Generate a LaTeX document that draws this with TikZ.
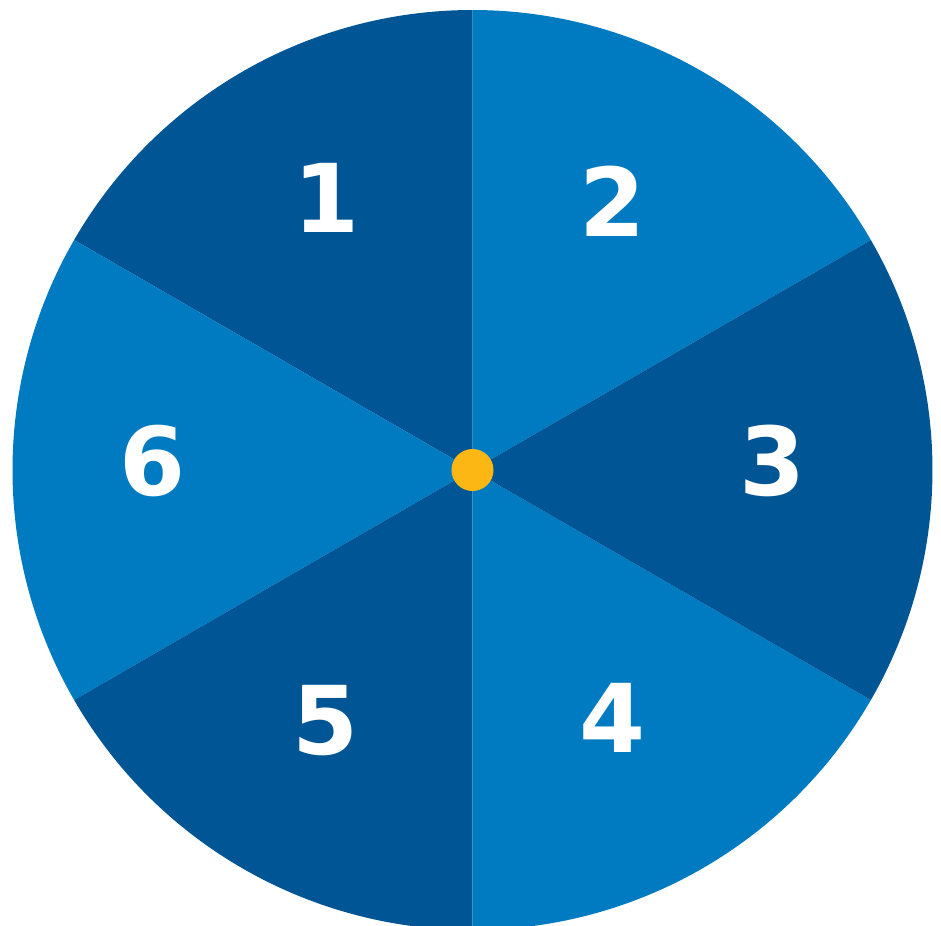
\documentclass[tikz,border=0pt]{standalone}
\usepackage{fontspec}
\setmainfont{DejaVu Sans}
\usepackage{xcolor}
\usepackage{tikz}
\usetikzlibrary{positioning}

\definecolor{spinnerdark}{HTML}{005595}
\definecolor{spinnerlight}{HTML}{007BC1}
\definecolor{spinnerhub}{HTML}{FDB714}

\begin{document}
\begin{tikzpicture}[
  x=0.01cm, y=0.01cm,
  number/.style={text=white, font=\fontsize{27}{30}\selectfont\bfseries, inner sep=0pt},
  hubdot/.style={circle, fill=spinnerhub, inner sep=0pt, minimum size=0.42cm}
]
\useasboundingbox (-472.5,-456) rectangle (468.5,470);

% Slices
\foreach \a/\c in {30/spinnerlight, 90/spinnerdark, 150/spinnerlight,
                   210/spinnerdark, 270/spinnerlight, 330/spinnerdark}
  \fill[\c] (0,0) -- (\a:460) arc[start angle=\a, end angle=\a+60, radius=460] -- cycle;

% Numbers
\node[number] (n1) at (-146,272) {1};
\node[number] (n2) at (140,269)  {2};
\node[number] (n3) at (300,9)    {3};
\node[number] (n4) at (140,-248) {4};
\node[number] (n5) at (-147,-251) {5};
\node[number] (n6) at (-320,9)   {6};

\node[hubdot] (hub) at (0,0) {};
\end{tikzpicture}
\end{document}
